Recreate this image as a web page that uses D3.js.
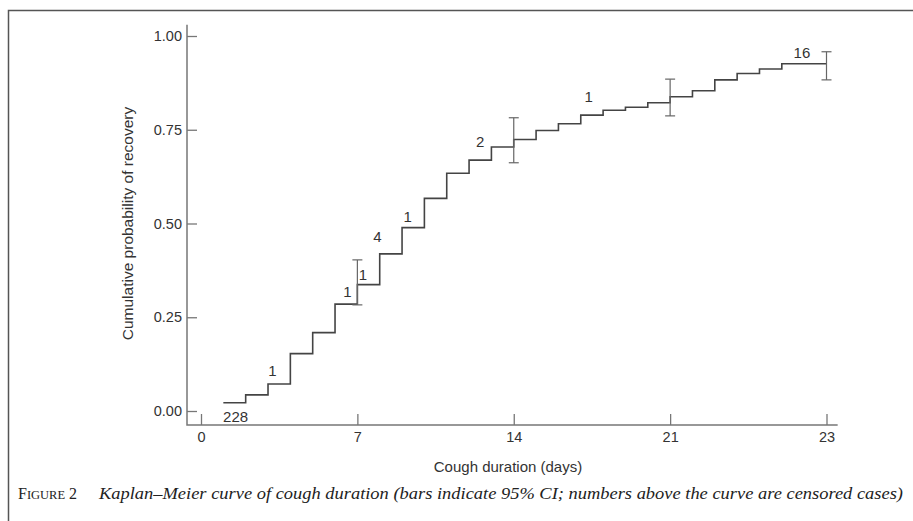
<!DOCTYPE html>
<html>
<head>
<meta charset="utf-8">
<script src="https://cdn.jsdelivr.net/npm/d3@7"></script>
<style>
  body { margin: 0; background: #fff; }
  svg { display: block; }
</style>
</head>
<body>
<div id="chart"></div>
<script>
// step start days and cumulative probability of recovery
var stepDays = [1, 2, 3, 4, 5, 6, 7, 8, 9, 10, 11, 12, 13, 14, 15, 16, 17, 18, 19, 20, 21, 22, 23, 24, 25, 26]
var recovery = [0.022, 0.043, 0.072, 0.153, 0.209, 0.285, 0.337, 0.419, 0.489, 0.567, 0.634, 0.669, 0.704,
  0.724, 0.748, 0.766, 0.789, 0.802, 0.810, 0.822, 0.838, 0.854, 0.883, 0.900, 0.912, 0.926]
var lastDay = 28

// 95% CI bars
var ciDays = [7, 14, 21, 28]
var ciLow = [0.283, 0.662, 0.787, 0.883]
var ciHigh = [0.403, 0.782, 0.885, 0.958]

// censored case counts (label position in days / probability)
var censorText = ['228', '1', '1', '1', '4', '1', '2', '1', '16']
var censorDay = [1.55, 3.2, 6.55, 7.25, 7.9, 9.25, 12.5, 17.35, 26.9]
var censorProb = [-0.03, 0.094, 0.305, 0.35, 0.451, 0.505, 0.705, 0.825, 0.942]

var xTicks = [0, 7, 14, 21, 28]
var xTickLabels = ['0', '7', '14', '21', '23']
var yTicks = [0, 0.25, 0.5, 0.75, 1]

var width = 913
var height = 521

var svg = d3
  .select('#chart')
  .append('svg')
  .attr('width', width)
  .attr('height', height)

// frame
svg.append('path')
  .attr('d', 'M8.5,521 V10.5 H913')
  .attr('fill', 'none')
  .attr('stroke', '#555')
  .attr('stroke-width', 1.5)

var x = d3.scaleLinear().domain([0, 28]).range([201, 826.5])
var y = d3.scaleLinear().domain([0, 1]).range([411, 36])

var axisColor = '#777'
var textColor = '#333'
var font = "'Liberation Sans', Arial, sans-serif"

// y axis
var yAxis = svg.append('g')
  .attr('transform', 'translate(187,0)')
  .call(d3.axisLeft(y).tickValues(yTicks).tickFormat(d3.format('.2f')).tickSize(-10).tickPadding(5))
yAxis.select('.domain').remove()

// x axis
var xAxis = svg.append('g')
  .attr('transform', 'translate(0,425)')
  .call(d3.axisBottom(x).tickValues(xTicks).tickFormat((d, i) => xTickLabels[i]).tickSize(-11).tickPadding(7))
xAxis.select('.domain').remove()

svg.selectAll('.tick line').attr('stroke', axisColor).attr('stroke-width', 1.3)
svg.selectAll('.tick text')
  .attr('fill', textColor)
  .attr('font-family', font)
  .attr('font-size', 14.5)

// axis lines
svg.append('path')
  .attr('d', 'M' + 187 + ',' + y(1.03) + ' V' + 425 + ' H' + x(28.5))
  .attr('fill', 'none')
  .attr('stroke', axisColor)
  .attr('stroke-width', 1.5)

// Kaplan-Meier step curve
var points = stepDays.map((d, i) => [d, recovery[i]])
points.push([lastDay, recovery[recovery.length - 1]])

var line = d3.line()
  .x(d => x(d[0]))
  .y(d => y(d[1]))
  .curve(d3.curveStepAfter)

svg.append('path')
  .datum(points)
  .attr('d', line)
  .attr('fill', 'none')
  .attr('stroke', '#444')
  .attr('stroke-width', 1.6)

// CI bars
var ci = svg.append('g')
  .attr('stroke', '#666')
  .attr('stroke-width', 1.2)
ciDays.forEach((d, i) => {
  ci.append('line')
    .attr('x1', x(d)).attr('x2', x(d))
    .attr('y1', y(ciLow[i])).attr('y2', y(ciHigh[i]))
  ci.append('line')
    .attr('x1', x(d) - 5).attr('x2', x(d) + 5)
    .attr('y1', y(ciLow[i])).attr('y2', y(ciLow[i]))
  ci.append('line')
    .attr('x1', x(d) - 5).attr('x2', x(d) + 5)
    .attr('y1', y(ciHigh[i])).attr('y2', y(ciHigh[i]))
})

// censored labels
svg.selectAll('.censor')
  .data(censorText)
  .enter()
  .append('text')
  .attr('class', 'censor')
  .attr('x', (d, i) => x(censorDay[i]))
  .attr('y', (d, i) => y(censorProb[i]))
  .attr('text-anchor', 'middle')
  .attr('font-family', font)
  .attr('font-size', 15)
  .attr('fill', textColor)
  .text(d => d)

// axis titles
svg.append('text')
  .attr('transform', 'translate(133,' + y(0.5) + ') rotate(-90)')
  .attr('text-anchor', 'middle')
  .attr('font-family', font)
  .attr('font-size', 15.5)
  .attr('fill', textColor)
  .text('Cumulative probability of recovery')

svg.append('text')
  .attr('x', 508)
  .attr('y', 472)
  .attr('text-anchor', 'middle')
  .attr('font-family', font)
  .attr('font-size', 15)
  .attr('fill', textColor)
  .text('Cough duration (days)')

// caption
var cap = svg.append('text')
  .attr('x', 18)
  .attr('y', 499)
  .attr('font-family', "'Liberation Serif', 'DejaVu Serif', serif")
  .attr('fill', '#222')
cap.append('tspan').attr('font-size', 16).text('F')
cap.append('tspan').attr('font-size', 12.5).text('IGURE')
cap.append('tspan').attr('font-size', 16).text(' 2')

svg.append('text')
  .attr('x', 99)
  .attr('y', 499)
  .attr('font-family', "'Liberation Serif', 'DejaVu Serif', serif")
  .attr('font-style', 'italic')
  .attr('font-size', 16.5)
  .attr('fill', '#222')
  .attr('textLength', 804)
  .attr('lengthAdjust', 'spacingAndGlyphs')
  .text('Kaplan\u2013Meier curve of cough duration (bars indicate 95% CI; numbers above the curve are censored cases)')
</script>
</body>
</html>
